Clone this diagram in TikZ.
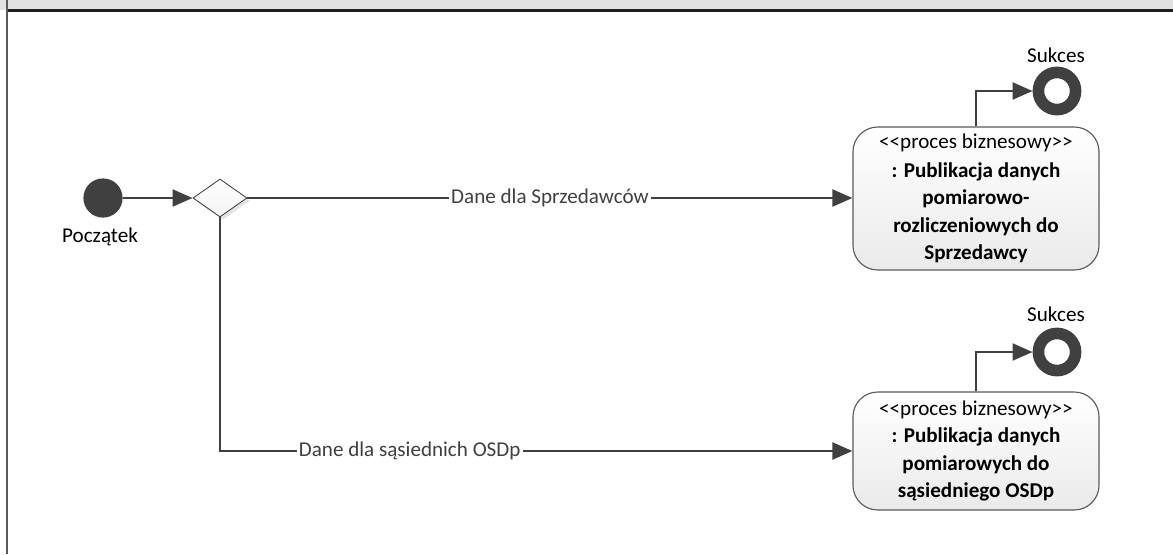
\documentclass[tikz,border=0pt]{standalone}
\usepackage{fontspec}
\setmainfont{Carlito}
\usetikzlibrary{shapes.geometric,arrows.meta,shadows}
\definecolor{ActLine}{HTML}{404040}
\definecolor{ActFrame}{HTML}{1E1E1E}
\definecolor{ActHead}{HTML}{E1E1E1}
\definecolor{ActBorder}{HTML}{5A5A5A}
\definecolor{ActFill}{HTML}{EAEAEA}

\begin{document}
\begin{tikzpicture}[x=0.025cm,y=-0.025cm,
  every node/.style={font=\fontsize{15}{19.5}\selectfont},
  flow/.style={ActLine,line width=0.07cm,-{Triangle[length=0.5cm,width=0.42cm]}},
  startdot/.style={circle,fill=ActLine,minimum size=0.98cm,inner sep=0},
  enddot/.style={circle,draw=ActLine,line width=0.29cm,fill=white,minimum size=0.93cm,inner sep=0},
  choice/.style={diamond,draw=ActLine,line width=0.6pt,top color=white,bottom color=ActFill!60,
    minimum width=1.35cm,minimum height=0.95cm,inner sep=0,
    drop shadow={shadow xshift=0.07cm,shadow yshift=-0.07cm,fill=gray!35,opacity=0.6}},
  proc/.style={rectangle,rounded corners=0.62cm,draw=ActBorder,line width=0.8pt,
    top color=white,bottom color=ActFill,minimum width=6.15cm,align=center,inner sep=2pt},
  guard/.style={fill=white,inner sep=1.5pt}]
\path[use as bounding box] (0,0) rectangle (1173,554);
% frame
\fill[ActHead] (0,0) rectangle (1173,10);
\draw[ActFrame,line width=0.075cm] (7,10) -- (1173,10);
\draw[ActBorder,line width=0.07cm] (7,0) -- (7,554);
% nodes
\node[startdot] (start) at (103,198) {};
\node at (100,237) {Początek};
\node[choice] (split) at (220,198) {};
\node[proc,minimum height=3.575cm] (pubSprz) at (976,198.5)
  {<\kern0pt<proces biznesowy>\kern0pt>\\[1pt]\textbf{: Publikacja danych}\\\textbf{pomiarowo-}\\\textbf{rozliczeniowych do}\\\textbf{Sprzedawcy}};
\node[proc,minimum height=2.95cm] (pubOSDp) at (976,451)
  {<\kern0pt<proces biznesowy>\kern0pt>\\\textbf{: Publikacja danych}\\\textbf{pomiarowych do}\\\textbf{sąsiedniego OSDp}};
\node[enddot] (endSprz) at (1057,91) {};
\node at (1056,55) {Sukces};
\node[enddot] (endOSDp) at (1057,352) {};
\node at (1056,314) {Sukces};
% connectors
\draw[flow] (start) -- (split.west);
\draw[flow] (split.east) -- node[guard] {Dane dla Sprzedawców} (pubSprz.west |- split.east);
\draw[flow] (split.south) |- node[guard,pos=0.65] {Dane dla sąsiednich OSDp} (pubOSDp.west);
\draw[flow] (pubSprz.north) |- (endSprz.west);
\draw[flow] (pubOSDp.north) |- (endOSDp.west);
\end{tikzpicture}
\end{document}
